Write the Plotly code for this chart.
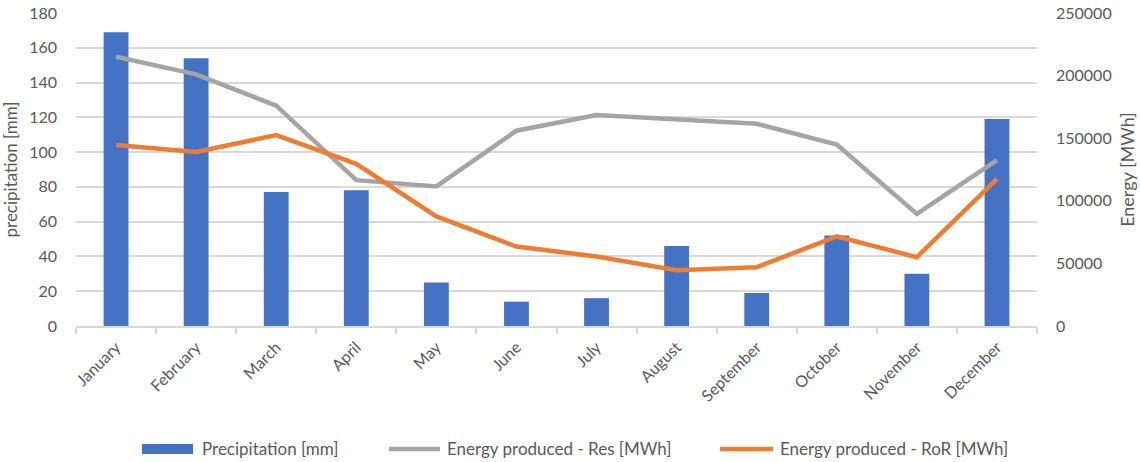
import plotly.graph_objects as go

months = ["January", "February", "March", "April", "May", "June", "July",
          "August", "September", "October", "November", "December"]
precipitation_mm = [169, 154, 77, 78, 25, 14, 16, 46, 19, 52, 30, 119]
energy_res_mwh = [215000, 201000, 176000, 116500, 111500, 156000, 168500,
                  165000, 161500, 145000, 89500, 132500]
energy_ror_mwh = [144500, 139000, 152500, 129500, 87500, 63500, 55500,
                  44500, 47000, 71500, 55000, 117500]

FONT = "Lato, 'Open Sans', sans-serif"
GRID = "#D9D9D9"
TXT = "#595959"
BLUE, GREY, ORANGE = "#4472C4", "#A5A5A5", "#ED7D31"

W, H = 1140, 462
ML, MR, MT, MB = 76, 103, 13, 136
PW, PH = W - ML - MR, H - MT - MB


def px(x):
    return (x - ML) / PW


def py(y):
    return (H - MB - y) / PH


fig = go.Figure()
fig.add_trace(go.Bar(
    x=months, y=precipitation_mm, name="Precipitation [mm]",
    marker=dict(color=BLUE, line=dict(width=0)), width=0.31, yaxis="y",
))
fig.add_trace(go.Scatter(
    x=months, y=energy_res_mwh, name="Energy produced - Res [MWh]",
    mode="lines", line=dict(color=GREY, width=4.5), yaxis="y2",
))
fig.add_trace(go.Scatter(
    x=months, y=energy_ror_mwh, name="Energy produced - RoR [MWh]",
    mode="lines", line=dict(color=ORANGE, width=4.5), yaxis="y2",
))

# legend drawn below the plot: swatch + label per series
legend_y = 449
shapes = [
    dict(type="rect", xref="paper", yref="paper",
         x0=px(142), x1=px(193), y0=py(454), y1=py(444),
         fillcolor=BLUE, line=dict(width=0)),
    dict(type="line", xref="paper", yref="paper",
         x0=px(389), x1=px(440), y0=py(legend_y), y1=py(legend_y),
         line=dict(color=GREY, width=4.5)),
    dict(type="line", xref="paper", yref="paper",
         x0=px(720), x1=px(773), y0=py(legend_y), y1=py(legend_y),
         line=dict(color=ORANGE, width=4.5)),
]
labels = [(fig.data[0].name, 200), (fig.data[1].name, 445), (fig.data[2].name, 778)]
annotations = [
    dict(text=t, xref="paper", yref="paper", x=px(x0), y=py(legend_y),
         xanchor="left", yanchor="middle", showarrow=False,
         font=dict(size=17, color=TXT, family=FONT))
    for t, x0 in labels
]

fig.update_layout(
    width=W, height=H,
    margin=dict(l=ML, r=MR, t=MT, b=MB),
    paper_bgcolor="white", plot_bgcolor="white",
    font=dict(family=FONT, size=16, color=TXT),
    showlegend=False,
    shapes=shapes, annotations=annotations,
    xaxis=dict(
        tickangle=-45, tickfont=dict(size=16, color=TXT),
        showline=True, linecolor=GRID, linewidth=1.5,
        ticks="outside", tickson="boundaries", ticklen=6, tickcolor=GRID,
        tickwidth=1.5, showgrid=False, automargin=False, ticklabelstandoff=4,
    ),
    yaxis=dict(
        range=[0, 180], dtick=20, showgrid=True, gridcolor=GRID, gridwidth=1.5,
        zeroline=False, ticklabelstandoff=18, automargin=False,
        tickfont=dict(size=16, color=TXT),
        title=dict(text="precipitation [mm]", font=dict(size=17, color=TXT), standoff=11),
    ),
    yaxis2=dict(
        range=[0, 250000], dtick=50000, overlaying="y", side="right",
        showgrid=False, zeroline=False, ticklabelstandoff=18, automargin=False,
        tickfont=dict(size=16, color=TXT), tickformat="d",
        title=dict(text="Energy [MWh]", font=dict(size=18, color=TXT), standoff=10),
    ),
)

fig.write_html("out.html")
